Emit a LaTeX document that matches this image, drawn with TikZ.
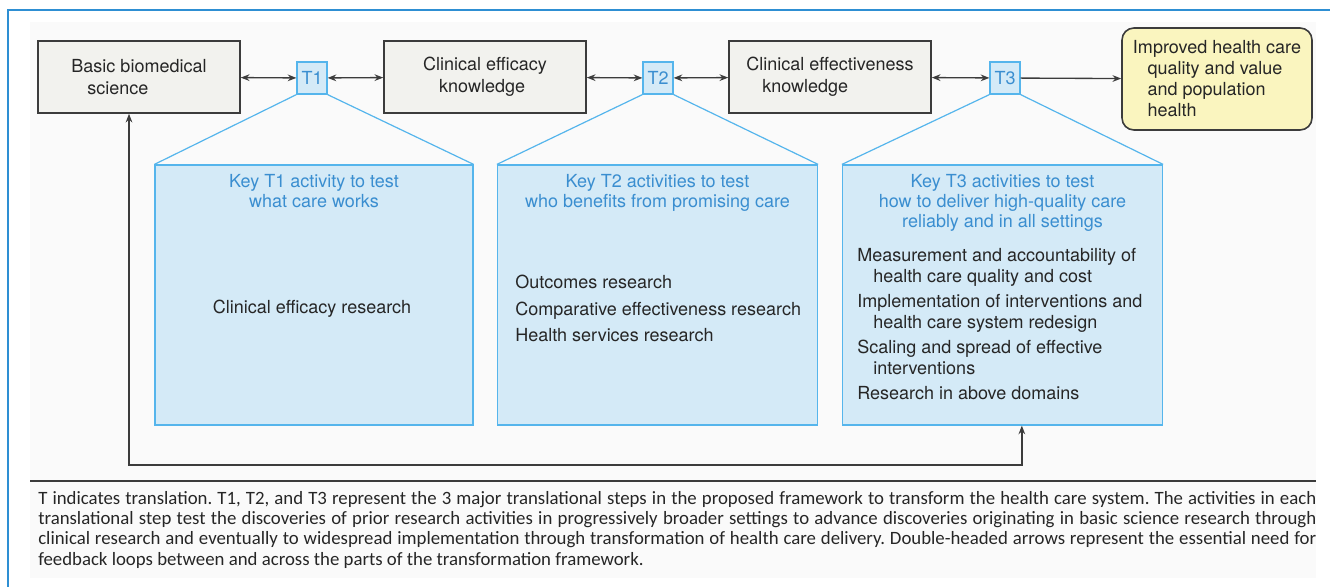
\documentclass[tikz,border=0pt]{standalone}
\usepackage{fontspec}
\setmainfont{TeX Gyre Heros}
\newfontfamily\notefont{Carlito}
\usepackage{tikz}
\usetikzlibrary{arrows.meta}

\definecolor{frameblue}{HTML}{2E8FD3}
\definecolor{panelgray}{HTML}{FAFAFA}
\definecolor{stagefill}{HTML}{F2F2EE}
\definecolor{stageline}{HTML}{3C3C3C}
\definecolor{tfill}{HTML}{D4EAF7}
\definecolor{tline}{HTML}{55B5EC}
\definecolor{keyblue}{HTML}{3A8ED0}
\definecolor{goalfill}{HTML}{FAF5BF}
\definecolor{inkgray}{HTML}{262626}

\tikzset{
  stagebox/.style={draw=stageline, fill=stagefill, line width=1.2pt, minimum width=151.5pt,
    minimum height=54pt, align=left, text=inkgray},
  tbox/.style={draw=tline, fill=tfill, line width=0.9pt, minimum width=22.5pt,
    minimum height=24pt, inner sep=0pt, text=keyblue},
  keypanel/.style={draw=tline, fill=tfill, line width=0.9pt, minimum width=240pt,
    minimum height=195pt},
  keyhead/.style={text=keyblue, align=center, inner sep=0pt, font=\fontsize{13.5}{15}\selectfont},
  keytext/.style={text=inkgray, align=left, inner sep=0pt},
  arr/.style={draw=stageline, line width=1pt, >={Stealth[length=6.5pt,width=5pt]}},
}

\begin{document}
\begin{tikzpicture}[x=0.75pt, y=-0.75pt, font=\fontsize{13.5}{16.5}\selectfont]
\useasboundingbox (0,0) rectangle (1330,586);

% Frame and background
\fill[panelgray] (30,22) rectangle (1316,578);
\draw[frameblue, line width=1.2pt] (8,600) -- (8,10) -- (1345,10);

% Top row
\node[stagebox] (basic) at (139,77) {Basic biomedical\\\hspace*{12pt}science};
\node[tbox] (t1) at (312,78) {T1};
\node[stagebox] (efficacy) at (485,77) {Clinical efficacy\\\hspace*{12pt}knowledge};
\node[tbox] (t2) at (658,78) {T2};
\node[stagebox] (effective) at (830,77) {Clinical effectiveness\\\hspace*{12pt}knowledge};
\node[tbox] (t3) at (1005,78) {T3};
\node[stagebox, fill=goalfill, rounded corners=9pt, minimum width=142.5pt, minimum height=76.5pt,
  font=\fontsize{13.5}{15.75}\selectfont] (goal) at (1217,79)
  {Improved health care\\\hspace*{11pt}quality and value\\\hspace*{11pt}and population\\\hspace*{11pt}health};

\draw[arr,<->] (basic) -- (t1);
\draw[arr,<->] (t1) -- (efficacy);
\draw[arr,<->] (efficacy) -- (t2);
\draw[arr,<->] (t2) -- (effective);
\draw[arr,<->] (effective) -- (t3);
\draw[arr,->] (t3) -- (goal);

% Key panels
\node[keypanel, minimum width=238.5pt] (p1) at (314,295) {};
\node[keypanel] (p2) at (657.5,295) {};
\node[keypanel] (p3) at (1002.5,295) {};

\draw[tline, line width=0.9pt] (t1.south west) -- (p1.north west);
\draw[tline, line width=0.9pt] (t1.south east) -- (p1.north east);
\draw[tline, line width=0.9pt] (t2.south west) -- (p2.north west);
\draw[tline, line width=0.9pt] (t2.south east) -- (p2.north east);
\draw[tline, line width=0.9pt] (t3.south west) -- (p3.north west);
\draw[tline, line width=0.9pt] (t3.south east) -- (p3.north east);

\node[keyhead, anchor=north] (h1) at (314,174) {Key T1 activity to test\\what care works};
\node[keyhead, anchor=north] (h2) at (657.5,174) {Key T2 activities to test\\who benefits from promising care};
\node[keyhead, anchor=north] (h3) at (1002.5,174)
  {Key T3 activities to test\\how to deliver high-quality care\\reliably and in all settings};

\node[keytext] (k1) at (312,309) {Clinical efficacy research};
\node[keytext, anchor=north west] (k2) at (515,275)
  {Outcomes research\\[3.3pt]Comparative effectiveness research\\[3.3pt]Health services research};
\node[keytext, anchor=north west, font=\fontsize{13.5}{15.75}\selectfont] (k3) at (857,248)
  {Measurement and accountability of\\\hspace*{12pt}health care quality and cost\\[3pt]
   Implementation of interventions and\\\hspace*{12pt}health care system redesign\\[3pt]
   Scaling and spread of effective\\\hspace*{12pt}interventions\\[3pt]
   Research in above domains};

% Feedback loop
\coordinate (loop) at (600,465);
\draw[arr,<->] ([xshift=-7.5pt]basic.south) |- (loop) -| ([xshift=14.5pt]p3.south);

% Note
\draw[stageline, line width=1.2pt] (30,481) -- (1316,481);
\node[anchor=north west, text width=958.5pt, align=justify, inner sep=0pt, text=inkgray,
  font=\notefont\fontsize{14.1}{15.2}\selectfont\frenchspacing] (note) at (38,491)
  {T indicates translation. T1, T2, and T3 represent the 3 major translational steps in the proposed framework to transform the health care system. The activities in each\linebreak
   translational step test the discoveries of prior research activities in progressively broader settings to advance discoveries originating in basic science research through\linebreak
   clinical research and eventually to widespread implementation through transformation of health care delivery. Double-headed arrows represent the essential need for\linebreak
   feedback loops between and across the parts of the transformation framework.};

\end{tikzpicture}
\end{document}
